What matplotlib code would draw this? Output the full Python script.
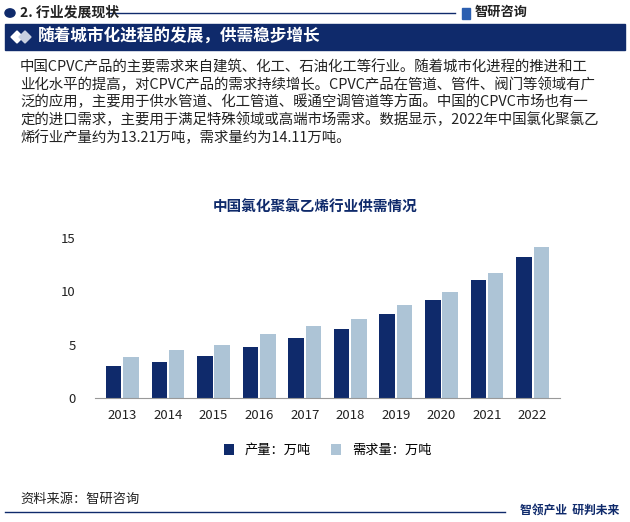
import matplotlib.pyplot as plt
import numpy as np
from matplotlib.patches import Rectangle, Polygon

plt.rcParams['font.family'] = 'Noto Sans CJK SC'

years = ['2013', '2014', '2015', '2016', '2017', '2018', '2019', '2020', '2021', '2022']
production = [3.0, 3.4, 3.9, 4.8, 5.6, 6.5, 7.9, 9.2, 11.0, 13.21]
demand = [3.8, 4.5, 5.0, 6.0, 6.7, 7.4, 8.7, 9.9, 11.7, 14.11]

W, H = 630, 522
navy = '#0f2a6b'
light = '#adc4d6'

fig = plt.figure(figsize=(W / 100, H / 100), dpi=100)
fig.patch.set_facecolor('white')


def fx(px):
    return px / W


def fy(py):
    return 1 - py / H


# header
fig.patches.append(plt.Circle((fx(10), fy(13)), 0.008, transform=fig.transFigure, color=navy))
fig.text(fx(20), fy(13), '2. 行业发展现状', fontsize=10, fontweight='bold', color='#222222', va='center')
fig.add_artist(plt.Line2D([fx(108), fx(455)], [fy(13), fy(13)], color=navy, lw=1))
fig.patches.append(Rectangle((fx(462), fy(19)), 0.012, 0.022, transform=fig.transFigure, color='#2c5fb0'))
fig.text(fx(475), fy(12), '智研咨询', fontsize=9.5, fontweight='bold', color='#222222', va='center')

fig.patches.append(Rectangle((fx(5), fy(50)), fx(620), 26 / H, transform=fig.transFigure, color=navy))
fig.patches.append(Polygon([(fx(11), fy(37)), (fx(17), fy(31)), (fx(23), fy(37)), (fx(17), fy(43))],
                           closed=True, transform=fig.transFigure, color='white'))
fig.patches.append(Polygon([(fx(19), fy(37)), (fx(25), fy(31)), (fx(31), fy(37)), (fx(25), fy(43))],
                           closed=True, transform=fig.transFigure, color='#c8d0e0'))
fig.text(fx(38), fy(37), '随着城市化进程的发展，供需稳步增长', fontsize=12, fontweight='bold',
         color='white', va='center')

body = ('中国CPVC产品的主要需求来自建筑、化工、石油化工等行业。随着城市化进程的推进和工\n'
        '业化水平的提高，对CPVC产品的需求持续增长。CPVC产品在管道、管件、阀门等领域有广\n'
        '泛的应用，主要用于供水管道、化工管道、暖通空调管道等方面。中国的CPVC市场也有一\n'
        '定的进口需求，主要用于满足特殊领域或高端市场需求。数据显示，2022年中国氯化聚氯乙\n'
        '烯行业产量约为13.21万吨，需求量约为14.11万吨。')
fig.text(fx(20), fy(60), body, fontsize=10.4, color='#222222', va='top', linespacing=1.25)

fig.text(0.5, fy(207), '中国氯化聚氯乙烯行业供需情况', fontsize=10.5, fontweight='bold',
         color=navy, ha='center', va='center')

# chart
ax = fig.add_axes([fx(95), fy(398), fx(465), 171 / H])
x = np.arange(len(years))
w = 0.34
ax.bar(x - w / 2 - 0.02, production, w, color=navy, label='产量：万吨')
ax.bar(x + w / 2 + 0.02, demand, w, color=light, label='需求量：万吨')
ax.set_xticks(x)
ax.set_xticklabels(years)
ax.set_ylim(0, 16)
ax.set_yticks([0, 5, 10, 15])
ax.set_xlim(-0.6, len(years) - 0.4)
for s in ['top', 'right', 'left']:
    ax.spines[s].set_visible(False)
ax.spines['bottom'].set_color('#999999')
ax.tick_params(axis='y', length=0, labelsize=9.5, colors='#222222', pad=14)
ax.tick_params(axis='x', length=0, labelsize=9.5, colors='#222222', pad=8)
ax.legend(loc='upper center', bbox_to_anchor=(0.5, -0.2), ncol=2, frameon=False,
          fontsize=9.5, handlelength=0.8, handleheight=0.8, columnspacing=1.5)

# footer
fig.text(fx(20), fy(499), '资料来源：智研咨询', fontsize=9.5, color='#222222', va='center')
fig.add_artist(plt.Line2D([fx(5), fx(505)], [fy(512), fy(512)], color=navy, lw=1))
fig.text(fx(520), fy(511), '智领产业  研判未来', fontsize=8.5, fontweight='bold', color=navy, va='center')

fig.savefig('out.png', dpi=100)
